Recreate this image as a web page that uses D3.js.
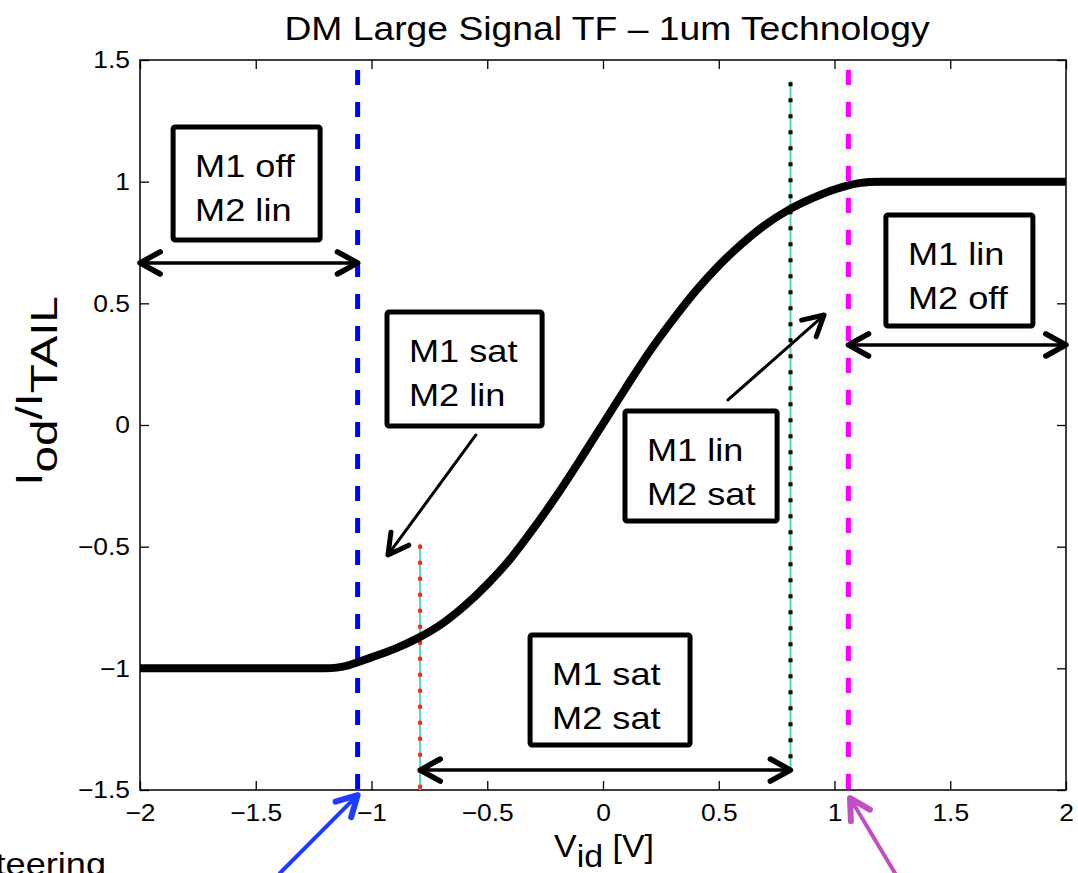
<!DOCTYPE html>
<html>
<head>
<meta charset="utf-8">
<script src="https://cdn.jsdelivr.net/npm/d3@7"></script>
<style>
  body { margin: 0; background: #fff; }
  text { font-family: "Liberation Sans", Arial, Helvetica, sans-serif; fill: #000; }
</style>
</head>
<body>
<svg id="viz"></svg>
<script>
// transfer curve
const vid = [-2, -1.5, -1.2, -1.15, -1.1, -1.06, -1.0, -0.9, -0.8, -0.7, -0.6, -0.5, -0.4, -0.3, -0.2, -0.1, 0,
	0.1, 0.2, 0.3, 0.4, 0.5, 0.6, 0.7, 0.8, 0.9, 1.0, 1.06, 1.1, 1.15, 1.2, 1.5, 2];
const iod = [-1, -1, -1, -0.997, -0.988, -0.975, -0.955, -0.92, -0.876, -0.82, -0.745, -0.655, -0.55, -0.425, -0.29, -0.145, 0.005,
	0.155, 0.3, 0.43, 0.55, 0.655, 0.745, 0.822, 0.883, 0.93, 0.968, 0.985, 0.993, 0.999, 1, 1, 1];

const xTicks = [-2, -1.5, -1, -0.5, 0, 0.5, 1, 1.5, 2];
const yTicks = [-1.5, -1, -0.5, 0, 0.5, 1, 1.5];

// region boundaries (dashed) and saturation edges (dotted)
const offEdges = [-1.06, 1.06];
const satEdgeX = [-0.79, 0.81];
const satEdgeTop = [-0.5, 1.4];
const satEdgeBottom = [-1.5, -1.42];

// labelled boxes: [x0, x1, yTop, yBottom] in data units
const boxLines = [["M1 off", "M2 lin"], ["M1 sat", "M2 lin"], ["M1 lin", "M2 sat"], ["M1 lin", "M2 off"], ["M1 sat", "M2 sat"]];
const boxX0 = [-1.857, -0.933, 0.095, 1.222, -0.315];
const boxX1 = [-1.222, -0.263, 0.752, 1.857, 0.376];
const boxY0 = [1.225, 0.464, 0.058, 0.863, -0.863];
const boxY1 = [0.76, -0.004, -0.395, 0.407, -1.315];

// double arrows spanning each region
const spanY = [0.666, 0.329, -1.418];
const spanFrom = [-2, 1.06, -0.79];
const spanTo = [-1.06, 2, 0.81];

// single pointer arrows: from -> tip
const ptrFrom = [[-0.549, -0.041], [0.540, 0.103], [-1.395, -1.841], [1.261, -1.841]];
const ptrTip = [[-0.929, -0.534], [0.955, 0.452], [-1.06, -1.521], [1.067, -1.533]];

var width = 1078, height = 873;
var margin = {left: 140, right: 12, top: 60, bottom: 83};
var SX = 1.13; // text in the picture is stretched sideways

var svg = d3.select("#viz").attr("width", width).attr("height", height);
svg.append("rect").attr("width", width).attr("height", height).attr("fill", "#fff");

var x = d3.scaleLinear().domain([-2, 2]).range([margin.left, width - margin.right]);
var y = d3.scaleLinear().domain([-1.5, 1.5]).range([height - margin.bottom, margin.top]);

function stretch(sel, px, py) {
	sel.attr("x", 0).attr("y", 0).attr("transform", "translate(" + px + "," + py + ") scale(" + SX + ",1)");
}

// axes, ticks inward on all four sides
var fmt = d3.format("~g");
function styleAxis(g) {
	g.select(".domain").remove();
	g.selectAll("line").attr("stroke", "#000").attr("stroke-width", 1.3);
}
svg.append("g").attr("transform", "translate(0," + y(-1.5) + ")")
	.call(d3.axisBottom(x).tickValues(xTicks).tickSize(-9).tickPadding(14).tickFormat(fmt))
	.call(styleAxis)
	.selectAll("text").attr("font-size", 24).attr("fill", "#000")
	.attr("transform", "scale(1.1,1)");
svg.append("g").attr("transform", "translate(0," + y(1.5) + ")")
	.call(d3.axisTop(x).tickValues(xTicks).tickSize(-9).tickFormat(""))
	.call(styleAxis);
svg.append("g").attr("transform", "translate(" + x(-2) + ",0)")
	.call(d3.axisLeft(y).tickValues(yTicks).tickSize(-9).tickPadding(10).tickFormat(fmt))
	.call(styleAxis)
	.selectAll("text").attr("font-size", 24).attr("fill", "#000")
	.attr("x", -10 / 1.1).attr("transform", "scale(1.1,1)");
svg.append("g").attr("transform", "translate(" + x(2) + ",0)")
	.call(d3.axisRight(y).tickValues(yTicks).tickSize(-9).tickFormat(""))
	.call(styleAxis);
svg.append("rect")
	.attr("x", x(-2)).attr("y", y(1.5))
	.attr("width", x(2) - x(-2)).attr("height", y(-1.5) - y(1.5))
	.attr("fill", "none").attr("stroke", "#000").attr("stroke-width", 1.5);

// dashed region boundaries
svg.selectAll(".offEdge").data(offEdges).enter().append("line")
	.attr("class", "offEdge")
	.attr("x1", d => x(d)).attr("x2", d => x(d))
	.attr("y1", y(1.5)).attr("y2", y(-1.5))
	.attr("stroke", (d, i) => i == 0 ? "#0000ff" : "#ff00ff")
	.attr("stroke-width", 5)
	.attr("stroke-dasharray", "15,17")
	.attr("stroke-dashoffset", 22);

// dotted saturation edges over a thin cyan line
satEdgeX.forEach(function (d, i) {
	svg.append("line")
		.attr("x1", x(d)).attr("x2", x(d))
		.attr("y1", y(satEdgeTop[i]) - 3).attr("y2", y(satEdgeBottom[i]))
		.attr("stroke", "#4dd9bf").attr("stroke-width", 2);
	svg.append("line")
		.attr("x1", x(d)).attr("x2", x(d))
		.attr("y1", y(satEdgeTop[i]) - 2).attr("y2", y(satEdgeBottom[i]))
		.attr("stroke", i == 0 ? "#ff2a00" : "#000")
		.attr("stroke-width", 4)
		.attr("stroke-dasharray", "4,12");
});

// the transfer curve
var pts = vid.map((v, i) => [v, iod[i]]);
svg.append("path")
	.datum(pts)
	.attr("fill", "none")
	.attr("stroke", "#000")
	.attr("stroke-width", 8)
	.attr("stroke-linejoin", "round")
	.attr("d", d3.line().x(d => x(d[0])).y(d => y(d[1])).curve(d3.curveMonotoneX));

// arrow helpers
function arrowHead(px, py, ang, color, w) {
	let len = 23, spread = 0.5;
	let p = "M" + (px - len * Math.cos(ang - spread)) + "," + (py - len * Math.sin(ang - spread)) +
		"L" + px + "," + py +
		"L" + (px - len * Math.cos(ang + spread)) + "," + (py - len * Math.sin(ang + spread));
	svg.append("path").attr("d", p).attr("fill", "none").attr("stroke", color)
		.attr("stroke-width", w).attr("stroke-linecap", "round").attr("stroke-linejoin", "round");
}
function arrow(x0, y0, x1, y1, color, w, both) {
	svg.append("line").attr("x1", x0).attr("y1", y0).attr("x2", x1).attr("y2", y1)
		.attr("stroke", color).attr("stroke-width", w).attr("stroke-linecap", "round");
	let ang = Math.atan2(y1 - y0, x1 - x0);
	arrowHead(x1, y1, ang, color, w + 2);
	if (both) arrowHead(x0, y0, ang + Math.PI, color, w + 2);
}

spanY.forEach(function (d, i) {
	arrow(x(spanFrom[i]), y(d), x(spanTo[i]), y(d), "#000", 3.5, true);
});
var ptrColor = ["#000", "#000", "#1f3cff", "#c24ec4"];
var ptrWidth = [3, 3, 4, 4];
ptrFrom.forEach(function (d, i) {
	arrow(x(d[0]), y(d[1]), x(ptrTip[i][0]), y(ptrTip[i][1]), ptrColor[i], ptrWidth[i], false);
});

// labelled boxes
boxLines.forEach(function (lines, i) {
	let bx = x(boxX0[i]), by = y(boxY0[i]);
	svg.append("rect")
		.attr("x", bx).attr("y", by)
		.attr("width", x(boxX1[i]) - bx).attr("height", y(boxY1[i]) - by)
		.attr("rx", 2)
		.attr("fill", "#fff").attr("stroke", "#000").attr("stroke-width", 5);
	lines.forEach(function (t, j) {
		svg.append("text").text(t).attr("font-size", 32)
			.call(stretch, bx + 22, by + 50 + j * 44);
	});
});

// title and axis labels
svg.append("text").text("DM Large Signal TF \u2013 1um Technology")
	.attr("font-size", 33).attr("text-anchor", "middle")
	.call(stretch, 607, 40);

var xl = svg.append("text").attr("font-size", 32).attr("text-anchor", "middle");
xl.append("tspan").text("V");
xl.append("tspan").text("id").attr("dy", 10);
xl.append("tspan").text(" [V]").attr("dy", -10);
xl.attr("x", 0).attr("y", 0).attr("transform", "translate(604,857) scale(1.06,1)");

var yl = svg.append("text").attr("font-size", 34).attr("text-anchor", "middle")
	.attr("transform", "translate(42,391) rotate(-90) scale(1.4,1.07)");
yl.append("tspan").text("I");
yl.append("tspan").text("od").attr("dy", 14);
yl.append("tspan").text("/I").attr("dy", -14);
yl.append("tspan").text("TAIL").attr("dy", 14);

// cut-off caption at the bottom left
svg.append("text").text("Current Steering").attr("font-size", 32).attr("text-anchor", "end")
	.call(stretch, 106, 875);
</script>
</body>
</html>
